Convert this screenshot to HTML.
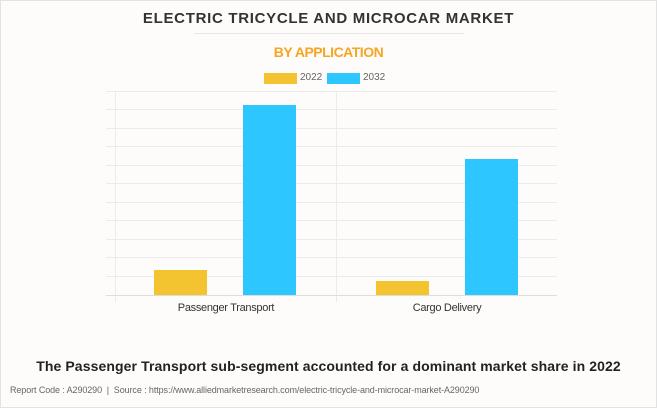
<!DOCTYPE html>
<html><head><style>
body{margin:0;width:657px;height:408px;background:#fdfcfb;font-family:"Liberation Sans",sans-serif;position:relative;overflow:hidden}
.b{position:absolute;box-sizing:border-box;border:1px solid #e2e2e2;left:0;top:0;width:657px;height:408px}
.t{position:absolute;white-space:nowrap}
</style></head><body>
<div class="b"></div>
<div class="t" style="left:0;width:657px;text-align:center;top:10px;font-size:15px;font-weight:bold;letter-spacing:0.7px;color:#333">ELECTRIC TRICYCLE AND MICROCAR MARKET</div>
<div style="position:absolute;left:194px;top:33px;width:270px;height:1px;background:#e6e6e6"></div>
<div class="t" style="left:0;width:657px;text-align:center;top:44px;font-size:14px;font-weight:bold;color:#f5a623;letter-spacing:-0.5px">BY APPLICATION</div>
<div style="position:absolute;left:264px;top:73px;width:33px;height:11px;background:#f4c430"></div>
<div class="t" style="left:300px;top:72px;font-size:10px;color:#666">2022</div>
<div style="position:absolute;left:327px;top:73px;width:33px;height:11px;background:#2ec6ff"></div>
<div class="t" style="left:363px;top:72px;font-size:10px;color:#666">2032</div>
<svg style="position:absolute;left:0;top:0" width="657" height="408">
<g stroke="#ebebeb" stroke-width="1">
<line x1="106" x2="557" y1="91.5" y2="91.5"/><line x1="106" x2="557" y1="109.5" y2="109.5"/>
<line x1="106" x2="557" y1="128.5" y2="128.5"/><line x1="106" x2="557" y1="146.5" y2="146.5"/>
<line x1="106" x2="557" y1="165.5" y2="165.5"/><line x1="106" x2="557" y1="183.5" y2="183.5"/>
<line x1="106" x2="557" y1="202.5" y2="202.5"/><line x1="106" x2="557" y1="220.5" y2="220.5"/>
<line x1="106" x2="557" y1="239.5" y2="239.5"/><line x1="106" x2="557" y1="257.5" y2="257.5"/>
<line x1="106" x2="557" y1="276.5" y2="276.5"/>
<line x1="115.5" x2="115.5" y1="91" y2="302"/><line x1="336.5" x2="336.5" y1="91" y2="302"/>
</g>
<line x1="106" x2="557" y1="295.5" y2="295.5" stroke="#ddd"/>
<rect x="154" y="270" width="53" height="25" fill="#f4c430"/>
<rect x="243" y="105" width="53" height="190" fill="#2ec6ff"/>
<rect x="376" y="281" width="53" height="14" fill="#f4c430"/>
<rect x="465" y="159" width="53" height="136" fill="#2ec6ff"/>
</svg>
<div class="t" style="left:126px;width:200px;text-align:center;top:302px;font-size:11px;color:#333;letter-spacing:-0.3px">Passenger Transport</div>
<div class="t" style="left:347px;width:200px;text-align:center;top:302px;font-size:11px;color:#333;letter-spacing:-0.3px">Cargo Delivery</div>
<div class="t" style="left:0;width:657px;text-align:center;top:358px;font-size:14px;font-weight:bold;color:#222;letter-spacing:0.1px">The Passenger Transport sub-segment accounted for a dominant market share in 2022</div>
<div class="t" style="left:10px;top:385px;font-size:9px;color:#666;letter-spacing:-0.1px">Report Code : A290290 &nbsp;| &nbsp;Source : https://www.alliedmarketresearch.com/electric-tricycle-and-microcar-market-A290290</div>
</body></html>
